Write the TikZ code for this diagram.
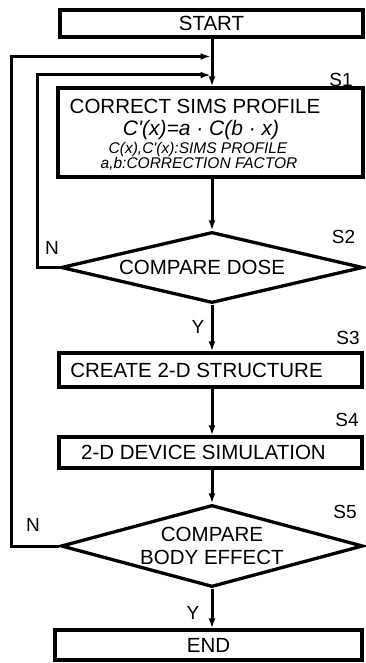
\documentclass[tikz,border=0pt]{standalone}
\usepackage{fontspec}
\setmainfont{Liberation Sans}[Ligatures=TeXOff]
\usetikzlibrary{shapes.geometric,arrows.meta,calc}
\begin{document}
\begin{tikzpicture}[x=1pt,y=-1pt,
  box/.style={draw, line width=3.3pt, inner sep=0pt, font=\fontsize{20.5}{22}\selectfont},
  dia/.style={draw, diamond, line width=3.3pt, inner sep=0pt, align=center, font=\fontsize{20.5}{23}\selectfont},
  txt/.style={inner sep=0pt, font=\fontsize{20.5}{22}\selectfont},
  small/.style={inner sep=0pt, font=\fontsize{15.5}{17}\selectfont\itshape},
  frm/.style={inner sep=0pt, font=\fontsize{21}{23}\selectfont\itshape},
  lbl/.style={inner sep=0pt, font=\fontsize{19}{20}\selectfont},
  conn/.style={line width=3pt},
  arr/.style={conn, -{Latex[length=10pt,width=7pt]}}]
\useasboundingbox (0,0) rectangle (366,663);
% nodes
\node[box, minimum width=303, minimum height=27] (start) at (211.5,23.5) {START};
\node[box, minimum width=305, minimum height=89] (s1) at (210.5,132.5) {};
\node[txt] (s1a) at (195,106.5) {CORRECT SIMS PROFILE};
\node[frm] (s1b) at (201,130) {C'(x)=a · C(b · x)};
\node[small] (s1c) at (198,149) {C(x),C'(x):SIMS PROFILE};
\node[small] (s1d) at (199,164) {a,b:CORRECTION FACTOR};
\node[dia, shape aspect=4.25, minimum width=302, minimum height=71] (s2) at (212,267.5) {\hspace*{-20pt}COMPARE DOSE};
\node[box, minimum width=303, minimum height=34] (s3) at (210.5,370) {CREATE 2-D STRUCTURE\hspace*{28pt}};
\node[box, minimum width=303, minimum height=31] (s4) at (210.5,452.5) {2-D DEVICE SIMULATION\hspace*{14pt}};
\node[dia, shape aspect=3.68, minimum width=302, minimum height=82] (s5) at (212,546) {COMPARE\\BODY EFFECT};
\node[box, minimum width=307, minimum height=30] (end) at (208.5,645) {END};
% labels
\node[lbl] (l1) at (341,80) {S1};
\node[lbl] (l2) at (343.5,237) {S2};
\node[lbl] (l3) at (348,338) {S3};
\node[lbl] (l4) at (347,420) {S4};
\node[lbl] (l5) at (345,512) {S5};
\node[lbl] (n2) at (52,248) {N};
\node[lbl] (y2) at (198,327) {Y};
\node[lbl] (n5) at (33,525) {N};
\node[lbl] (y5) at (193,613) {Y};
% junctions
\coordinate (j1) at (212,56.5);
\coordinate (j2) at (212,75);
\coordinate (c1) at (11.5,546);
\coordinate (c2) at (37,267.5);
% connectors
\draw[arr] (start.south -| j1) -- (s1.north -| j1);
\draw[arr] (s1.south -| s2.north) -- (s2.north);
\draw[arr] (s2.south) -- (s3.north -| s2.south);
\draw[arr] (s3.south -| s2.south) -- (s4.north -| s2.south);
\draw[arr] (s4.south -| s2.south) -- (s5.north);
\draw[arr] (s5.south) -- (end.north -| s5.south);
\draw[arr] (s2.west) -- (c2) |- ($(j2)+(-1.5,0)$);
\draw[arr] (s5.west) -- (c1) |- ($(j1)+(-1.5,0)$);
\end{tikzpicture}
\end{document}
